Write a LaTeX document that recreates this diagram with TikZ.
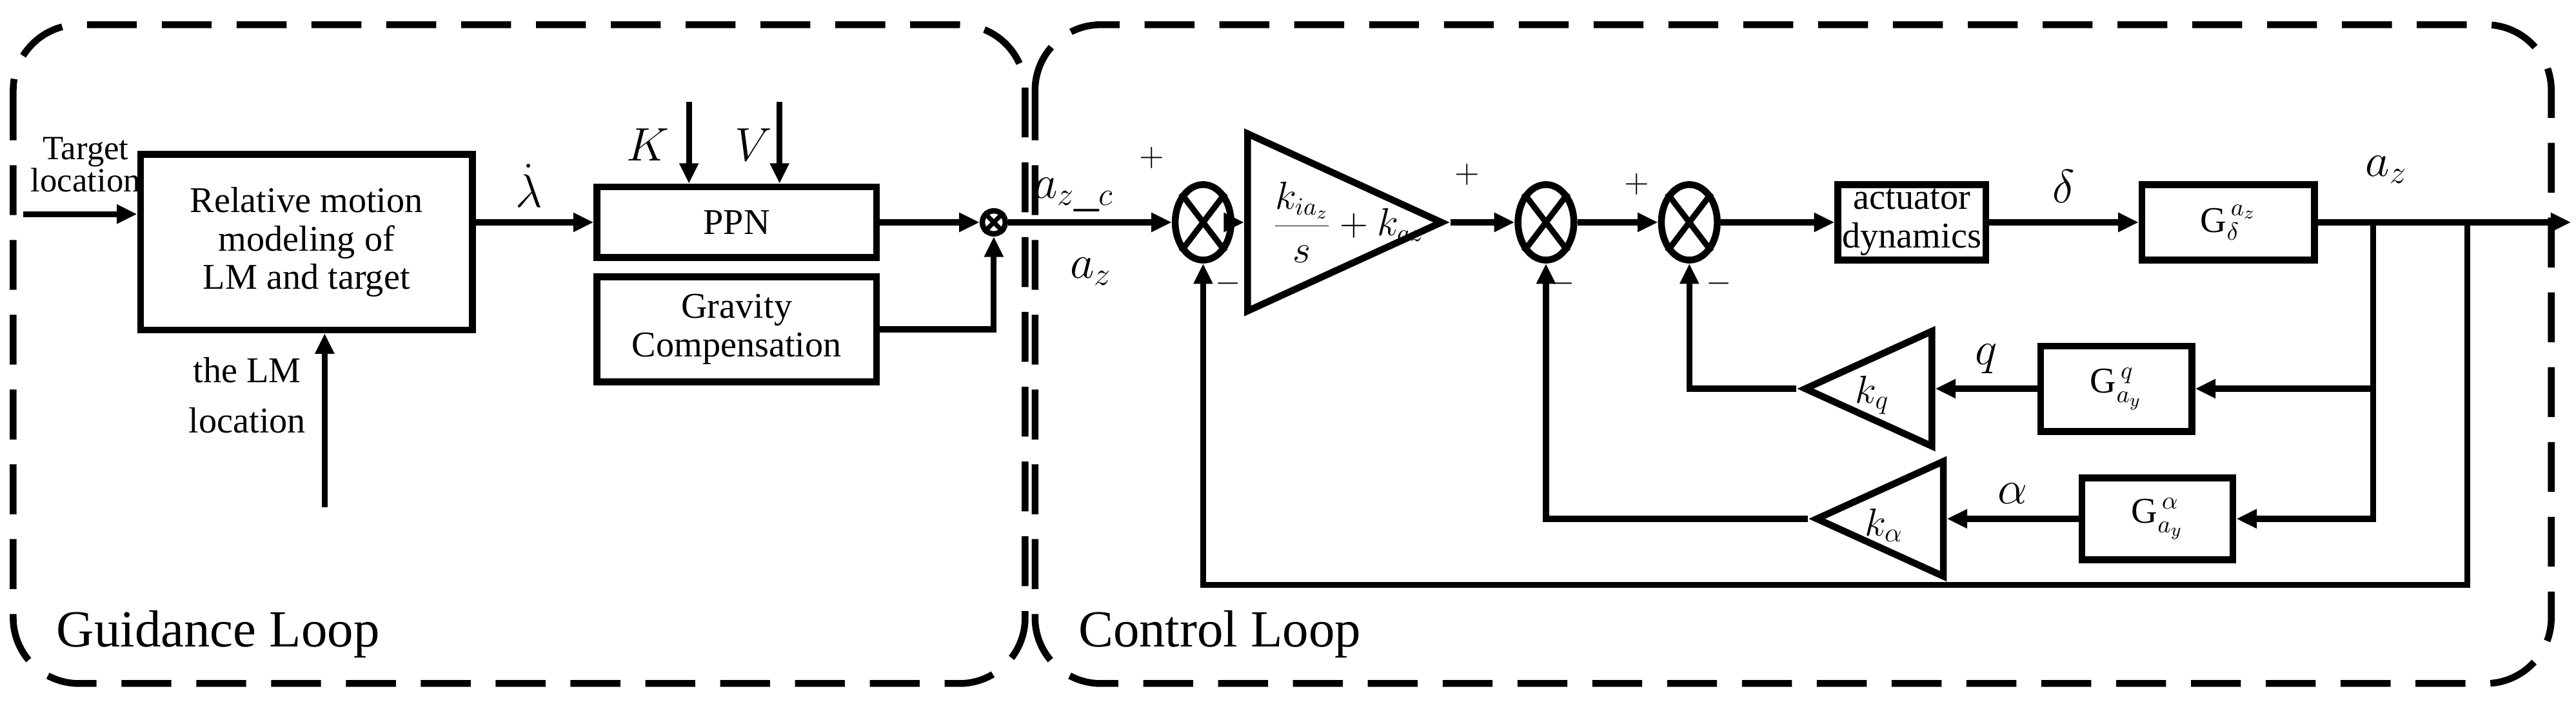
\documentclass[tikz,border=0pt]{standalone}
\usepackage{fontspec}
\setmainfont{Liberation Serif}
\usetikzlibrary{arrows.meta,shapes.geometric}
\newcommand\dpx{0.7245pt}
\begin{document}
\begin{tikzpicture}[x=0.02555cm,y=-0.02555cm,line width=2.6pt,
	>={Triangle[length=9pt,width=8pt]},
	%blocks
	blk/.style={rectangle,draw,line width=3pt,inner sep=1pt,align=center,font=\fontsize{16}{17}\selectfont},
	% summing junctions
	summ/.style={ellipse,draw,line width=3pt,inner sep=0pt,minimum width=34*\dpx,minimum height=46*\dpx},
	gain/.style={isosceles triangle,isosceles triangle stretches,draw,line width=3pt,inner sep=0pt},
	lbl/.style={font=\fontsize{22}{22}\selectfont},
	sgn/.style={font=\fontsize{15}{15}\selectfont},
	loop/.style={draw,line width=3pt,dash pattern=on 22pt off 11pt,rounded corners=29pt}]
\useasboundingbox (0,0) rectangle (1563,435.6);

% dashed loops
\draw[loop] (8,15) rectangle (622,415);
\draw[loop] (628,15) rectangle (1548,415);
\node[anchor=west,font=\fontsize{23}{23}\selectfont] (gl) at (28,385) {Guidance Loop};
\node[anchor=west,font=\fontsize{23}{23}\selectfont] (cl) at (648,385) {Control Loop};

%guidance loop
\node[blk,minimum width=202*\dpx,minimum height=107*\dpx] (rel) at (186,147) {Relative motion\\modeling of\\LM and target};
\node[align=center,font=\fontsize{15}{14}\selectfont] (tl) at (52,100) {Target\\location};
\coordinate (tin) at (14,130);
\draw[->] (tin) -- (tin-|rel.west);
\node[align=center,font=\fontsize{16}{22}\selectfont] (lm) at (150,240) {the LM\\location};
\coordinate (lmin) at (197,308);
\draw[->] (lmin) -- (lmin|-rel.south);
\node[blk,minimum width=170*\dpx,minimum height=43*\dpx] (ppn) at (447,135) {PPN};
\node[blk,minimum width=170*\dpx,minimum height=64*\dpx] (grav) at (447,200) {Gravity\\Compensation};
\draw[->] (rel.east|-ppn) -- node[above,lbl,pos=0.45,yshift=2pt] {$\dot{\lambda}$} (ppn);
\coordinate (kin) at (418,62);
\coordinate (vin) at (473,62);
\node[font=\fontsize{20}{20}\selectfont] (kl) at (393,88) {$K$};
\node[font=\fontsize{20}{20}\selectfont] (vl) at (457,88) {$V$};
\draw[->] (kin) -- (kin|-ppn.north);
\draw[->] (vin) -- (vin|-ppn.north);
\node[circle,draw,line width=2.4pt,minimum size=14*\dpx,inner sep=0pt] (s0) at (603,135) {};
\draw[line width=2pt] (s0.north west) -- (s0.south east) (s0.north east) -- (s0.south west);
\draw[->] (ppn) -- (s0);
\draw[->] (grav.east) -| (s0.south);

%control loop
\node[summ] (s1) at (730,135) {};
\node[gain,minimum width=108*\dpx,minimum height=118*\dpx,anchor=apex] (kp) at (880,135) {};
\node[summ] (s2) at (938,135) {};
\node[summ] (s3) at (1025,135) {};
\node[blk,minimum width=90*\dpx,minimum height=46*\dpx] (act) at (1160,135) {actuator\\dynamics};
\node[blk,minimum width=105*\dpx,minimum height=46*\dpx] (gd) at (1352,135) {G$^{\,a_z}_{\delta}$};
\node[blk,minimum width=92*\dpx,minimum height=52*\dpx] (gq) at (1284,236) {G$^{\,q}_{a_y}$};
\node[blk,minimum width=92*\dpx,minimum height=50*\dpx] (ga) at (1309,315) {G$^{\,\alpha}_{a_y}$};
\node[gain,shape border rotate=180,minimum width=70*\dpx,minimum height=77*\dpx,anchor=apex] (kq) at (1090,236) {};
\node[gain,shape border rotate=180,minimum width=70*\dpx,minimum height=77*\dpx,anchor=apex] (ka) at (1097,315) {};
\foreach \s in {s1,s2,s3}
	\draw (\s.north west) -- (\s.south east) (\s.north east) -- (\s.south west);
\node[font=\fontsize{16}{16}\selectfont] (kpt) at (818,135) {$\displaystyle\frac{k_{ia_z}}{s}+k_{az}$};
\node[font=\fontsize{18}{18}\selectfont] (kqt) at (1136,240) {$k_q$};
\node[font=\fontsize{18}{18}\selectfont] (kat) at (1143,319) {$k_\alpha$};
\coordinate (out) at (1560,135);
\coordinate (br) at (1440,135);
\coordinate (fb) at (1497,135);

\draw[->] (s0) -- node[above,lbl,pos=0.4] {$a_{z\_c}$} (s1);
\draw[->] (s1) -- (kp.west|-s1);
\draw[->] (kp.apex) -- (s2);
\draw[->] (s2) -- (s3);
\draw[->] (s3) -- (act);
\draw[->] (act) -- node[above,lbl,yshift=4pt] {$\delta$} (gd);
\draw[->] (gd) -- (out);
\node[lbl] (azo) at (1448,103) {$a_z$};
\draw[->] (br) |- (gq.east);
\draw[->] (br) |- (ga.east);
\draw[->] (gq) -- node[above,lbl,yshift=2pt] {$q$} (kq.east|-gq);
\draw[->] (ga) -- node[above,lbl,yshift=2pt] {$\alpha$} (ka.east|-ga);
\draw[->] (kq.apex) -| (s3.south);
\draw[->] (ka.apex) -| (s2.south);
\draw[->] (fb) |- (733,355) -| (s1.south);

% signs
\node[sgn] (p1) at (699,96) {$+$};
\node[sgn] (m1) at (745,172) {$-$};
\node[lbl] (azf) at (662,165) {$a_z$};
\node[sgn] (p2) at (890,106) {$+$};
\node[sgn] (m2) at (948,172) {$-$};
\node[sgn] (p3) at (993,112) {$+$};
\node[sgn] (m3) at (1043,172) {$-$};
\end{tikzpicture}
\end{document}
